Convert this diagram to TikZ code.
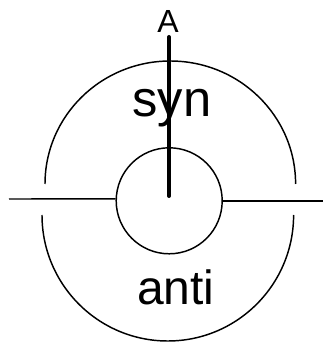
\documentclass[tikz,border=0pt]{standalone}
\usepackage{fontspec}
\setmainfont{Liberation Sans}
\usepackage{xcolor}
\tikzset{
  corenode/.style={draw=black,circle,line width=1.1pt,minimum size=79.5pt,inner sep=0pt},
  lobelabel/.style={anchor=base,inner sep=0pt,font=\fontsize{38}{40}\selectfont},
  axislabel/.style={anchor=base,inner sep=0pt,font=\fontsize{24}{26}\selectfont},
  edgeT/.style={line width=1.1pt,draw=black},
  edgeA/.style={line width=3pt,draw=black,line cap=round},
}

\begin{document}
\begin{tikzpicture}[x=0.75pt,y=0.75pt]
  \useasboundingbox (0,0) rectangle (323,343);
  \node[corenode] (core) at (169.2,142.2) {};
  \node[axislabel] (lblA) at (168,310) {A};
  \node[lobelabel] (lblsyn) at (172,226) {syn};
  \node[lobelabel,font=\fontsize{36}{38}\selectfont] (lblanti) at (175.7,38) {anti};
  \coordinate (leftend) at (9,144);
  \coordinate (rightend) at (323,142.2);
  \coordinate (tipA) at (169,306);
  \coordinate (baseA) at (169,147);
  \draw[edgeT] (leftend) -- (core.178);
  \draw[edgeT] (core.0) -- (rightend);
  \draw[edgeT] (45,159) arc[start angle=180,end angle=0,x radius=125.3,y radius=123];
  \draw[edgeT] (42,128) arc[start angle=180,end angle=360,x radius=125.8,y radius=126];
  \draw[edgeA] (tipA) -- (baseA);
\end{tikzpicture}
\end{document}
